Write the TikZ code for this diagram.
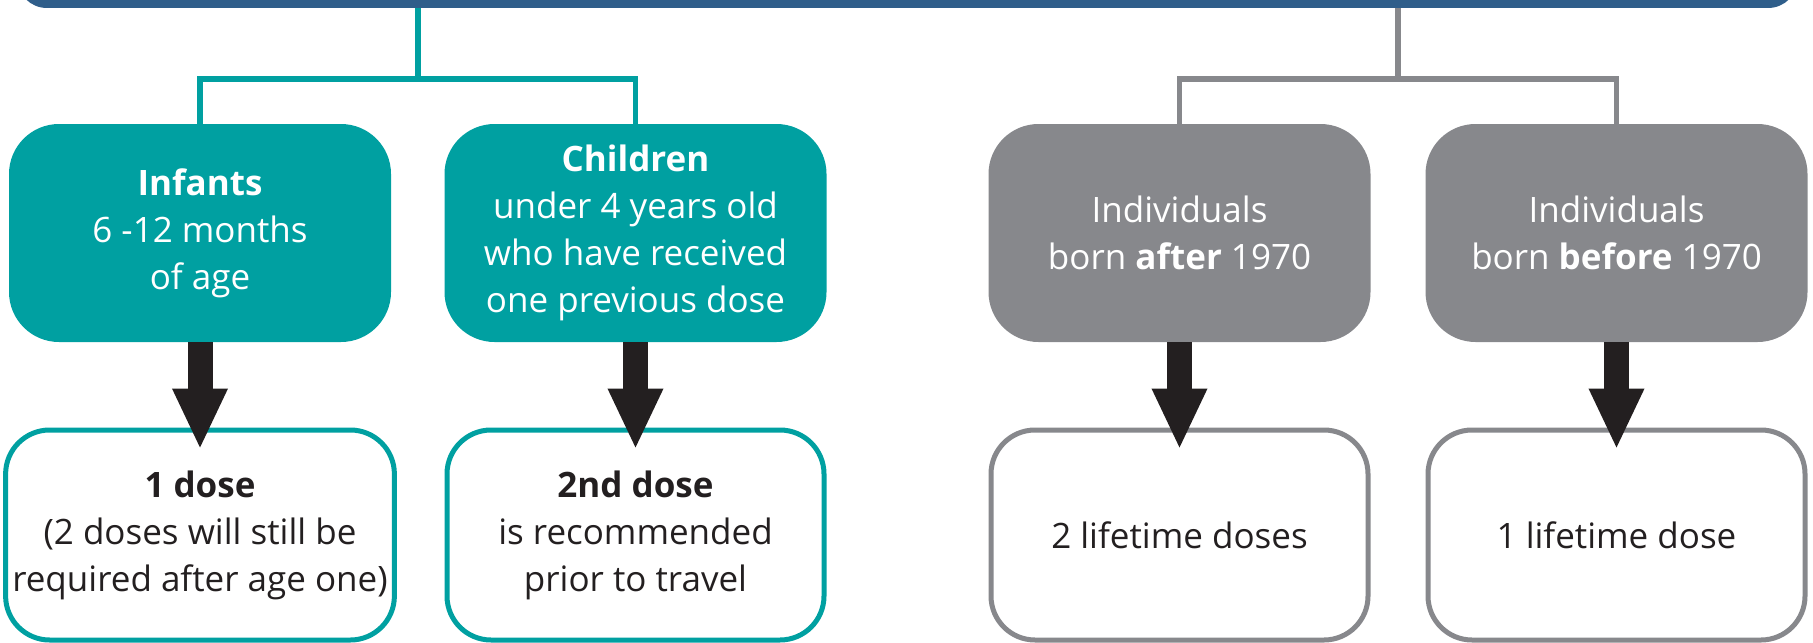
\documentclass[tikz,border=0pt]{standalone}
\usepackage{fontspec}
\setmainfont{Open Sans}
\usepackage{tikz}
\usetikzlibrary{arrows.meta,positioning,calc}
\definecolor{mmrteal}{RGB}{0,160,161}
\definecolor{mmrgray}{RGB}{135,136,140}
\definecolor{mmrblue}{RGB}{47,94,138}
\definecolor{mmrdark}{RGB}{35,31,32}
\newcommand{\boxfont}{\fontsize{17.5}{23.5}\selectfont}
\tikzstyle{group}=[rounded corners=25pt, minimum width=191pt, minimum height=109pt, align=center, text=white, font=\boxfont]
\tikzstyle{dosebox}=[draw, line width=2.5pt, rounded corners=22pt, fill=white, minimum width=188.5pt, minimum height=105pt, align=center, text=mmrdark, font=\boxfont]

\begin{document}
\begin{tikzpicture}[x=0.5pt,y=-0.5pt,link/.style={line width=2.8pt},bigarrow/.style={mmrdark, line width=12.5pt, -{Triangle[width=25.5pt,length=30.5pt]}}]
\useasboundingbox (0,0) rectangle (1813,642);
\node (banner) at (907.5,-32) [fill=mmrblue, rounded corners=15pt, minimum width=890.5pt, minimum height=40pt] {};
% groups
\node (inf) at (200,233) [group, fill=mmrteal] {\textbf{Infants}\\6 -12 months\\of age};
\node (chi) at (635.5,233) [group, fill=mmrteal] {\textbf{Children}\\under 4 years old\\who have received\\one previous dose};
\node (aft) at (1179.5,233) [group, fill=mmrgray] {Individuals\\born \textbf{after} 1970};
\node (bef) at (1616.5,233) [group, fill=mmrgray] {Individuals\\born \textbf{before} 1970};
% doses
\node (dinf) at (200,535) [dosebox, draw=mmrteal] {\textbf{1 dose}\\(2 doses will still be\\required after age one)};
\node (dchi) at (635.5,535) [dosebox, draw=mmrteal] {\textbf{2nd dose}\\is recommended\\prior to travel};
\node (daft) at (1179.5,535) [dosebox, draw=mmrgray] {2 lifetime doses};
\node (dbef) at (1616.5,535) [dosebox, draw=mmrgray] {1 lifetime dose};
% tree lines
\coordinate (tsplit) at (418,79);
\coordinate (gsplit) at (1398,79);
\draw[link, mmrteal] (banner.south -| tsplit) -- (tsplit);
\draw[link, mmrteal] (inf.north) |- (tsplit) -| (chi.north);
\draw[link, mmrgray] (banner.south -| gsplit) -- (gsplit);
\draw[link, mmrgray] (aft.north) |- (gsplit) -| (bef.north);
% arrows
\draw[bigarrow] (inf.south) -- ([yshift=-11pt]dinf.north);
\draw[bigarrow] (chi.south) -- ([yshift=-11pt]dchi.north);
\draw[bigarrow] (aft.south) -- ([yshift=-11pt]daft.north);
\draw[bigarrow] (bef.south) -- ([yshift=-11pt]dbef.north);
\end{tikzpicture}
\end{document}
